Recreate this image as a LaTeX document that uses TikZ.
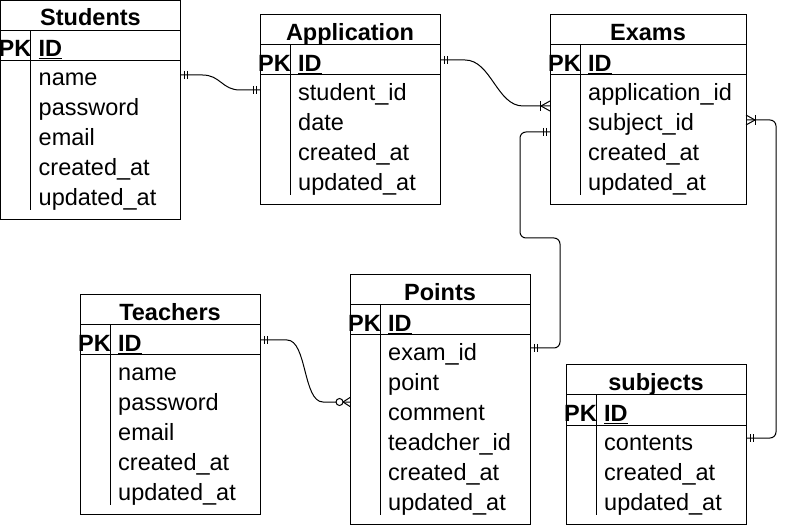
\documentclass[tikz,border=0pt]{standalone}
\usepackage{fontspec}
\setmainfont{Liberation Sans}
\usetikzlibrary{calc}
\newcommand\erfont{\fontsize{23.5}{28}\selectfont}
\tikzset{
  ent/.style={draw, line width=1pt, inner sep=0pt, outer sep=0pt, anchor=north west},
  sepline/.style={line width=1pt},
  ttl/.style={inner sep=0pt, anchor=base, font=\erfont\bfseries},
  pklabel/.style={inner sep=0pt, anchor=base, font=\erfont\bfseries},
  fld/.style={inner sep=0pt, anchor=base west, font=\erfont},
  rel/.style={line width=1pt, line cap=butt},
}
% #1 id, #2 left, #3 top, #4 width, #5 number of fields, #6 title, #7 fields
\newcommand\ertable[7]{%
  \node[ent, minimum width=#4pt, minimum height={69.5pt+30pt*#5}] (#1) at (#2,#3) {};
  \draw[sepline] ({#2},{#3+30}) -- ++(#4,0);
  \draw[sepline] ({#2},{#3+60}) -- ++(#4,0);
  \draw[sepline] ({#2+30},{#3+30}) -- ({#2+30},{#3+60+30*#5});
  \node[ttl] (#1-title) at ({#2+#4/2},{#3+25.5}) {#6};
  \node[pklabel] (#1-pk) at ({#2+14.5},{#3+56.5}) {PK};
  \node[fld] (#1-id) at ({#2+38},{#3+56.5}) {\bfseries\underline{ID}};
  \foreach \f [count=\i] in {#7} {\node[fld] (#1-f\i) at ({#2+38},{#3+55.5+30*\i}) {\f};}
}
% mandatory one: #1 coordinate, #2 direction (+1 line leaves to the right, -1 to the left)
\newcommand\erone[2]{%
  \draw[rel] ($(#1)+(#2*4,-4)$) -- ($(#1)+(#2*4,4)$);
  \draw[rel] ($(#1)+(#2*7,-4)$) -- ($(#1)+(#2*7,4)$);
}
% one or many
\newcommand\ermany[2]{%
  \draw[rel] ($(#1)+(#2*9,0)$) -- ($(#1)+(0,-5)$);
  \draw[rel] ($(#1)+(#2*9,0)$) -- ($(#1)+(0,5)$);
  \draw[rel] ($(#1)+(#2*9.5,-5)$) -- ($(#1)+(#2*9.5,5)$);
}
% zero or many
\newcommand\erzeromany[2]{%
  \draw[rel] ($(#1)+(#2*7,0)$) -- ($(#1)+(0,-4.5)$);
  \draw[rel] ($(#1)+(#2*7,0)$) -- ($(#1)+(0,4.5)$);
  \draw[rel, fill=white] ($(#1)+(#2*10.5,0)$) circle (3.5);
}
\begin{document}
\begin{tikzpicture}[x=1pt, y=-1pt]
\useasboundingbox (0,0) rectangle (787,526);
\fill[white] (0,0) rectangle (787,526);

\ertable{students}{0.5}{0.5}{180}{5}{Students}{name,password,email,created\_at,updated\_at}
\ertable{application}{260}{15}{180}{4}{Application}{student\_id,date,created\_at,updated\_at}
\ertable{exams}{550}{15}{196}{4}{Exams}{application\_id,subject\_id,created\_at,updated\_at}
\ertable{teachers}{80}{295}{180}{5}{Teachers}{name,password,email,created\_at,updated\_at}
\ertable{points}{350}{275}{180}{6}{Points}{exam\_id,point,comment,teadcher\_id,created\_at,updated\_at}
\ertable{subjects}{566}{365}{180}{3}{subjects}{contents,created\_at,updated\_at}

% connector end points
\coordinate (r1a) at (students.east |- 0,75);
\coordinate (r1b) at (application.west |- 0,90);
\coordinate (r2a) at (application.east |- 0,60);
\coordinate (r2b) at (exams.west |- 0,106);
\coordinate (r3a) at (teachers.east |- 0,340);
\coordinate (r3b) at (points.west |- 0,402);
\coordinate (r4a) at (exams.west |- 0,132);
\coordinate (r4b) at (points.east |- 0,348);
\coordinate (r5a) at (exams.east |- 0,120);
\coordinate (r5b) at (subjects.east |- 0,438);

% Students -- Application
\draw[rel] (r1a) -- ++(22,0) .. controls +(18,0) and +(-18,0) .. ($(r1b)+(-20,0)$) -- (r1b);
\erone{r1a}{1}
\erone{r1b}{-1}

% Application -- Exams
\draw[rel] (r2a) -- ++(25,0) .. controls +(26,0) and +(-26,0) .. ($(r2b)+(-27,0)$) -- (r2b);
\erone{r2a}{1}
\ermany{r2b}{-1}

% Teachers -- Points
\draw[rel] (r3a) -- ++(27,0) .. controls +(20,0) and +(-20,0) .. ($(r3b)+(-27,0)$) -- (r3b);
\erone{r3a}{1}
\erzeromany{r3b}{-1}

% Exams -- Points
\draw[rel, rounded corners=6pt] (r4a) -| ($(r4a)+(-30,106)$) -| ($(r4b)+(30,0)$) -- (r4b);
\erone{r4a}{-1}
\erone{r4b}{1}

% Exams -- subjects
\draw[rel, rounded corners=6pt] (r5a) -| ($(r5b)+(30,0)$) -- (r5b);
\ermany{r5a}{1}
\erone{r5b}{1}
\end{tikzpicture}
\end{document}
